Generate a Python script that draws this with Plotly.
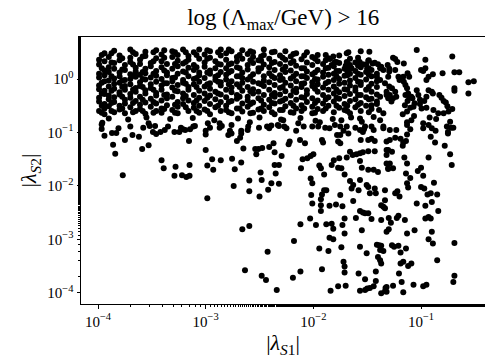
import plotly.graph_objects as go

# ---- data (log10 of |lambda_S1|, |lambda_S2|) ----
# dense band: column x positions and the y values in each column
band_x = [-3.99, -3.94, -3.90, -3.85, -3.80, -3.75, -3.70, -3.65, -3.61, -3.56,
          -3.51, -3.46, -3.41, -3.36, -3.31, -3.26, -3.21, -3.16, -3.11, -3.06,
          -3.01, -2.96, -2.91, -2.86, -2.81, -2.76, -2.71, -2.66, -2.61, -2.56,
          -2.51, -2.46, -2.41, -2.36, -2.31, -2.26, -2.21, -2.16, -2.11, -2.06,
          -2.01, -1.96, -1.91, -1.86, -1.81, -1.76, -1.71, -1.66, -1.61, -1.56,
          -1.51, -1.46, -1.41]
band_y = [
    [0.36, 0.27, 0.1, 0.03, -0.12, -0.19, -0.35, -0.42, -0.6],
    [0.48, 0.33, 0.16, 0.07, -0.04, -0.22, -0.28, -0.47, -0.55, -0.66],
    [0.41, 0.22, 0.13, -0.03, -0.14, -0.31, -0.38, -0.51],
    [0.53, 0.3, 0.19, 0.01, -0.09, -0.18, -0.34, -0.43, -0.62],
    [0.44, 0.35, 0.12, 0.05, -0.07, -0.25, -0.29, -0.5, -0.57],
    [0.26, 0.17, -0.02, -0.13, -0.2, -0.39, -0.46, -0.64],
    [0.55, 0.4, 0.32, 0.09, 0.0, -0.1, -0.28, -0.35, -0.53],
    [0.47, 0.21, 0.14, 0.04, -0.17, -0.24, -0.41, -0.6],
    [0.36, 0.28, 0.08, -0.06, -0.13, -0.33, -0.48, -0.56],
    [0.51, 0.43, 0.19, 0.11, -0.01, -0.21, -0.27, -0.44, -0.65],
    [0.3, 0.24, 0.03, -0.1, -0.17, -0.37, -0.52],
    [0.54, 0.39, 0.15, 0.06, -0.05, -0.26, -0.31, -0.46, -0.6],
    [0.46, 0.33, 0.22, 0.0, -0.12, -0.2, -0.4, -0.55, -0.63],
    [0.28, 0.12, 0.07, -0.08, -0.29, -0.36, -0.49],
    [0.52, 0.41, 0.19, 0.02, -0.04, -0.16, -0.33, -0.58],
    [0.45, 0.34, 0.24, 0.1, -0.11, -0.23, -0.43, -0.52, -0.64],
    [0.55, 0.29, 0.14, -0.02, -0.07, -0.27, -0.36, -0.47],
    [0.43, 0.36, 0.21, 0.05, -0.15, -0.2, -0.4, -0.6],
    [0.5, 0.26, 0.17, 0.0, -0.1, -0.3, -0.45, -0.54],
    [0.55, 0.38, 0.12, 0.07, -0.05, -0.22, -0.35, -0.5, -0.63],
    [0.46, 0.31, 0.23, 0.02, -0.14, -0.27, -0.41, -0.57],
    [0.52, 0.4, 0.16, 0.1, -0.08, -0.18, -0.31, -0.47, -0.66],
    [0.33, 0.2, 0.04, -0.02, -0.24, -0.38, -0.53],
    [0.55, 0.44, 0.27, 0.13, -0.06, -0.12, -0.29, -0.43, -0.6],
    [0.48, 0.36, 0.2, 0.08, -0.01, -0.2, -0.34, -0.5, -0.58],
    [0.52, 0.29, 0.15, -0.04, -0.16, -0.25, -0.41, -0.64],
    [0.41, 0.33, 0.22, 0.05, -0.1, -0.3, -0.37, -0.55],
    [0.54, 0.38, 0.12, 0.02, -0.07, -0.22, -0.46, -0.61],
    [0.47, 0.26, 0.18, -0.01, -0.15, -0.33, -0.4, -0.52],
    [0.5, 0.41, 0.3, 0.09, -0.05, -0.19, -0.27, -0.44, -0.63],
    [0.35, 0.2, 0.14, -0.08, -0.24, -0.36, -0.57],
    [0.55, 0.45, 0.27, 0.05, -0.03, -0.13, -0.3, -0.48, -0.6],
    [0.38, 0.22, 0.11, -0.06, -0.2, -0.39, -0.53],
    [0.51, 0.32, 0.17, 0.02, -0.11, -0.26, -0.33, -0.46, -0.66],
    [0.44, 0.28, 0.07, -0.02, -0.17, -0.29, -0.42, -0.58],
    [0.52, 0.36, 0.23, 0.13, -0.07, -0.23, -0.37, -0.51],
    [0.42, 0.3, 0.16, 0.01, -0.12, -0.31, -0.45, -0.62],
    [0.48, 0.25, 0.1, -0.04, -0.18, -0.25, -0.39, -0.55],
    [0.37, 0.2, 0.05, -0.09, -0.15, -0.34, -0.49, -0.6],
    [0.5, 0.31, 0.14, 0.02, -0.21, -0.28, -0.43],
    [0.41, 0.26, 0.09, -0.06, -0.13, -0.36, -0.52, -0.64],
    [0.45, 0.33, 0.17, -0.01, -0.1, -0.24, -0.4, -0.56],
    [0.28, 0.12, 0.04, -0.16, -0.3, -0.46, -0.6],
    [0.39, 0.21, 0.08, -0.05, -0.2, -0.34, -0.5],
    [0.24, 0.1, -0.02, -0.14, -0.27, -0.42, -0.62],
    [0.44, 0.3, 0.15, 0.0, -0.09, -0.25, -0.37, -0.54],
    [0.19, 0.06, -0.07, -0.19, -0.32, -0.47, -0.58],
    [0.38, 0.26, 0.1, -0.03, -0.12, -0.28, -0.41, -0.64],
    [0.31, 0.15, 0.02, -0.16, -0.22, -0.38, -0.53],
    [0.22, 0.08, -0.06, -0.11, -0.3, -0.45, -0.6],
    [0.27, 0.13, -0.01, -0.2, -0.34, -0.5],
    [0.17, 0.05, -0.09, -0.24, -0.37, -0.56],
    [0.1, -0.04, -0.15, -0.29, -0.47],
]

# extra points filling the gaps of the dense band
fill_x = [-3.965, -3.875, -3.775, -3.675, -3.585, -3.485, -3.385, -3.285, -3.185,
          -3.085, -2.985, -2.885, -2.785, -2.685, -2.585, -2.485, -2.385, -2.285,
          -2.185, -2.085, -1.985, -1.885, -1.785, -1.685, -1.585, -1.485]
fill_y = [
    [0.2, -0.07, -0.27, -0.5, 0.45, -0.63],
    [0.31, 0.05, -0.22, -0.45, -0.6, 0.48],
    [0.18, -0.03, -0.33, -0.55, 0.39, -0.15],
    [0.27, 0.06, -0.2, -0.45, -0.62, 0.5],
    [0.13, -0.15, -0.39, -0.6, 0.42, 0.0],
    [0.33, 0.1, -0.2, -0.43, -0.63, 0.5],
    [0.4, 0.16, -0.08, -0.3, -0.56, 0.54],
    [0.28, 0.03, -0.22, -0.48, 0.5, -0.63],
    [0.32, 0.12, -0.09, -0.32, -0.53, 0.5],
    [0.22, -0.15, -0.4, -0.6, 0.45, 0.02],
    [0.38, 0.12, -0.1, -0.35, -0.6, 0.54],
    [0.28, -0.05, -0.27, -0.5, 0.5, 0.07],
    [0.27, 0.12, -0.1, -0.43, -0.62, 0.55],
    [0.45, 0.2, -0.15, -0.33, -0.55, 0.05],
    [0.35, 0.04, -0.23, -0.47, -0.64, 0.52],
    [0.2, -0.1, -0.4, -0.55, 0.42, 0.34],
    [0.3, 0.05, -0.3, -0.45, -0.62, 0.5],
    [0.4, 0.18, -0.15, -0.4, -0.58, 0.0],
    [0.33, 0.05, -0.22, -0.5, 0.47, -0.63],
    [0.44, 0.2, -0.08, -0.35, -0.55, 0.05],
    [0.38, 0.12, -0.18, -0.45, -0.63, 0.0],
    [0.35, 0.2, -0.08, -0.38, -0.55, 0.45],
    [0.32, 0.05, -0.2, -0.5, 0.15, -0.35],
    [0.3, 0.07, -0.2, -0.5, -0.6, 0.15],
    [0.4, 0.1, -0.05, -0.3, -0.48, 0.25],
    [0.35, 0.08, -0.15, -0.38, -0.62, 0.2],
]

# sparse points just below the dense band
band_edge = [
    (-3.966, -0.936), (-3.94, -1.06), (-3.87, -1.01), (-3.83, -1.01), (-3.81, -0.92),
    (-3.75, -1.14), (-3.68, -1.05), (-3.62, -1.08), (-3.58, -0.91), (-3.52, -0.88),
    (-3.49, -0.99), (-3.46, -1.03), (-3.47, -0.88), (-3.38, -0.955), (-3.29, -0.99),
    (-3.245, -0.99), (-3.23, -0.91), (-3.21, -0.94), (-3.155, -1.16), (-3.96, -0.82),
    (-3.115, -0.89), (-3.10, -0.88), (-3.0, -0.97), (-3.0, -1.04), (-2.96, -0.91),
    (-2.87, -0.91), (-2.85, -0.88), (-2.79, -1.05), (-2.76, -1.02), (-2.775, -0.97),
    (-2.71, -1.16), (-2.68, -1.10), (-2.67, -1.02), (-2.67, -0.97), (-2.61, -0.955),
    (-2.605, -0.89), (-2.505, -0.91), (-2.41, -0.92), (-2.39, -0.87), (-2.32, -0.88),
    (-2.27, -0.89), (-3.19, -0.955), (-3.966, -0.85), (-3.70, -0.89), (-3.53, -0.83),
    (-3.42, -0.99), (-3.35, -0.89), (-3.145, -0.94), (-2.98, -0.83), (-2.87, -0.83),
    (-2.76, -0.86), (-2.59, -0.81), (-2.43, -0.89), (-2.33, -0.86), (-3.9, -0.74),
    (-3.72, -0.76), (-3.55, -0.72), (-3.33, -0.75), (-3.12, -0.73), (-2.92, -0.77),
    (-2.7, -0.74), (-2.5, -0.72), (-2.3, -0.76), (-2.12, -0.73), (-1.98, -0.78),
    (-1.82, -0.75), (-1.65, -0.72), (-2.28, -0.77), (-2.25, -0.92), (-2.14, -0.83),
    (-2.01, -0.89), (-1.94, -0.81), (-1.80, -0.86), (-1.74, -0.77), (-1.69, -0.89),
    (-1.55, -0.80), (-1.38, -0.77), (-2.16, -0.97), (-1.955, -0.89), (-1.89, -0.91),
    (-1.85, -0.92), (-1.72, -0.97), (-1.675, -1.02), (-1.567, -0.955), (-1.54, -0.99),
    (-1.53, -0.94), (-1.35, -0.92), (-1.46, -0.89), (-2.09, -0.89), (-1.75, -0.89),
    (-1.61, -0.91),
]

# sparse points in the lower part of the plot
lower_scatter = [
    (-3.86, -1.23), (-3.84, -1.40), (-3.59, -1.31), (-3.53, -1.24), (-3.77, -1.80),
    (-3.41, -1.52), (-3.39, -1.67), (-3.28, -1.64), (-3.29, -1.81), (-3.15, -1.61),
    (-3.18, -1.835), (-3.15, -1.81), (-3.22, -1.80),
    (-3.0, -1.33), (-2.985, -1.62), (-2.94, -1.50), (-2.93, -1.70), (-2.86, -1.52),
    (-2.755, -1.49), (-2.73, -1.69), (-2.67, -1.56), (-2.74, -2.00), (-2.985, -2.23),
    (-2.65, -1.30), (-2.595, -1.90), (-2.595, -2.10), (-2.54, -1.31), (-2.51, -1.31),
    (-2.53, -1.41), (-2.475, -1.29), (-2.41, -1.27), (-2.37, -1.20), (-2.36, -1.37),
    (-2.295, -1.44), (-2.23, -1.22), (-2.22, -1.17), (-2.49, -1.75), (-2.48, -1.89),
    (-2.50, -2.20), (-2.42, -2.07), (-2.39, -1.95), (-2.36, -1.61), (-2.32, -1.61),
    (-2.35, -1.77), (-2.32, -1.96), (-2.66, -2.81), (-2.595, -2.75), (-2.425, -3.23),
    (-2.635, -3.58), (-2.48, -3.68), (-2.44, -3.76), (-2.34, -3.95), (-2.18, -3.03),
    (-2.19, -3.72),
    (-2.124, -1.14), (-2.078, -1.20), (-2.10, -1.50), (-2.056, -1.485), (-2.025, -1.44),
    (-2.00, -1.41), (-2.115, -1.67), (-1.945, -1.62), (-1.93, -1.67), (-1.92, -1.14),
    (-1.91, -1.19), (-1.78, -1.05), (-1.75, -1.05), (-1.77, -1.17), (-1.75, -1.20),
    (-1.90, -1.785), (-1.83, -1.61), (-1.81, -1.52), (-1.76, -1.485), (-1.77, -1.66),
    (-1.74, -1.67), (-1.71, -1.785), (-1.69, -1.47), (-1.66, -1.36), (-1.635, -1.42),
    (-1.60, -1.41), (-1.567, -1.39), (-1.54, -1.37), (-1.49, -1.35), (-1.43, -1.35),
    (-1.66, -1.91), (-1.63, -1.985), (-1.645, -2.05), (-1.567, -1.89), (-1.58, -2.08),
    (-1.505, -1.985), (-1.49, -2.02), (-1.43, -2.05), (-1.42, -2.14), (-1.55, -1.66),
    (-1.567, -1.535), (-1.49, -1.70), (-1.44, -1.70), (-1.40, -1.74), (-1.475, -2.14),
    (-2.025, -1.86), (-2.01, -1.95), (-2.02, -2.17), (-2.01, -2.33), (-1.93, -2.25),
    (-1.92, -2.16), (-1.90, -2.08), (-1.88, -2.08), (-1.93, -2.36), (-1.93, -2.47),
    (-1.85, -2.37), (-1.79, -2.35), (-1.75, -2.17), (-1.73, -2.38), (-1.63, -2.285),
    (-1.567, -2.47), (-1.54, -2.50), (-1.52, -2.51), (-1.49, -2.51), (-1.46, -2.62),
    (-1.605, -2.60), (-1.71, -2.61), (-2.03, -2.61), (-2.12, -2.72), (-1.976, -2.73),
    (-1.88, -2.72), (-1.83, -2.71), (-1.815, -2.80), (-1.73, -2.73), (-1.71, -2.89),
    (-1.55, -2.83), (-1.85, -2.97), (-1.815, -3.00), (-1.945, -3.17), (-1.86, -3.22),
    (-1.74, -3.15), (-1.567, -3.14), (-1.505, -3.26), (-1.72, -3.42), (-1.71, -3.51),
    (-1.71, -3.62), (-2.12, -3.60), (-1.92, -3.56), (-1.58, -3.64), (-1.52, -3.745),
    (-1.77, -3.88), (-1.70, -3.87), (-1.84, -3.96), (-1.567, -3.96), (-1.52, -3.95),
    (-1.50, -3.92), (-1.475, -3.91), (-1.44, -3.88), (-1.41, -3.10), (-1.39, -3.11),
    (-1.37, -3.12), (-1.38, -3.20), (-1.35, -3.22), (-1.40, -3.33), (-1.38, -3.39),
    (-1.37, -3.45), (-1.42, -3.60), (-1.42, -3.78), (-1.33, -3.91), (-1.37, -4.01),
    (-1.335, -3.97), (-1.32, -2.86), (-1.37, -2.64), (-1.37, -2.36), (-1.35, -2.39),
    (-1.32, -1.58), (-1.305, -1.67), (-1.43, -1.16), (-1.49, -1.14), (-1.46, -1.12),
    (-1.56, -1.14), (-1.32, -1.33),
    (-0.98, -0.92), (-0.865, -0.97), (-0.91, -1.08), (-0.87, -1.19), (-0.75, -1.02),
    (-0.70, -0.91), (-0.78, -1.25), (-0.73, -1.41), (-0.715, -1.61), (-0.93, -1.47),
    (-1.13, -1.04), (-1.19, -1.12), (-1.165, -1.19), (-1.14, -1.16), (-1.17, -1.25),
    (-1.24, -1.10), (-1.29, -1.14), (-1.32, -1.17), (-1.305, -1.33), (-1.27, -1.36),
    (-1.32, -1.42), (-1.155, -1.47), (-1.13, -1.58), (-1.29, -1.58), (-1.305, -1.685),
    (-1.26, -1.67), (-1.14, -1.77), (-1.10, -1.85), (-1.13, -1.95), (-1.12, -2.03),
    (-1.03, -1.72), (-1.00, -1.66), (-0.98, -1.81), (-1.00, -2.02), (-0.97, -2.05),
    (-0.88, -1.94), (-0.94, -2.16), (-0.91, -2.14), (-0.85, -2.16), (-0.90, -2.30),
    (-0.96, -2.37), (-0.84, -2.47), (-1.04, -2.33), (-1.24, -2.14), (-1.22, -2.10),
    (-1.20, -2.20), (-1.335, -2.08), (-1.335, -2.27), (-1.335, -2.42), (-1.30, -2.60),
    (-1.28, -2.69), (-1.225, -2.60), (-1.21, -2.56), (-1.15, -2.64), (-1.30, -2.81),
    (-1.13, -2.89), (-1.06, -2.83), (-0.96, -2.61), (-0.93, -2.58), (-0.91, -2.61),
    (-0.90, -2.86), (-0.93, -3.00), (-0.89, -3.08), (-0.69, -3.07), (-1.27, -3.11),
    (-1.25, -3.14), (-1.21, -3.12), (-1.19, -3.245), (-1.14, -3.17), (-1.19, -3.45),
    (-1.165, -3.42), (-1.12, -3.50), (-1.09, -3.45), (-0.85, -3.39), (-1.205, -3.64),
    (-0.69, -3.68), (-0.70, -3.80), (-1.18, -3.80), (-1.26, -3.87), (-1.32, -3.89),
    (-1.32, -3.98), (-1.165, -3.99), (-1.07, -3.85), (-0.98, -3.88), (-0.95, -3.85),
]

# points on the right of the dense band
right_scatter = [
    (-1.04, 0.545), (-0.96, 0.36), (-0.71, 0.42), (-0.96, 0.20), (-0.98, 0.15),
    (-0.89, 0.09), (-0.93, 0.04), (-0.95, -0.02), (-0.80, 0.11), (-0.69, 0.125),
    (-0.645, 0.125), (-0.56, -0.06), (-0.51, -0.04), (-0.56, -0.27), (-0.69, -0.175),
    (-0.69, -0.22), (-0.83, -0.30), (-0.81, -0.35), (-0.79, -0.41), (-0.93, -0.21),
    (-0.90, -0.24), (-0.89, -0.27), (-0.71, -0.56), (-0.745, -0.61), (-0.72, -0.91),
    (-0.75, -0.99), (-0.84, -0.64), (-0.86, -0.75), (-0.95, -0.33), (-0.97, -0.41),
    (-1.01, -0.47), (-0.995, -0.55), (-0.95, -0.54), (-1.07, -0.52), (-1.10, -0.54),
    (-1.13, -0.61), (-1.065, -0.69), (-1.09, -0.77), (-1.13, -0.81), (-1.17, -0.66),
    (-0.98, -0.83), (-0.93, -0.86), (-1.125, -0.41), (-1.15, -0.49), (-1.11, -0.35),
    (-1.24, 0.375), (-1.22, 0.32), (-1.26, 0.40), (-1.16, 0.29), (-1.24, 0.17),
    (-1.21, 0.04), (-1.20, -0.02), (-1.165, 0.04), (-1.16, -0.05), (-1.31, 0.26),
    (-1.295, 0.19), (-1.37, 0.23), (-1.35, 0.17), (-1.41, 0.04), (-1.38, -0.02),
    (-1.27, -0.175), (-1.24, -0.24), (-1.23, -0.33), (-1.32, -0.30), (-1.305, -0.36),
    (-1.12, -0.27), (-1.09, -0.33), (-1.145, -0.11), (-1.13, -0.175), (-1.48, 0.51),
    (-1.56, 0.52), (-1.49, 0.34), (-1.45, 0.29), (-1.50, 0.20), (-1.40, 0.275),
    (-1.38, 0.20), (-1.57, 0.32), (-1.54, 0.275), (-1.675, 0.50), (-1.69, 0.32),
    (-1.70, 0.25), (-1.675, 0.20), (-1.645, 0.20), (-1.815, 0.42), (-1.80, 0.32),
    (-1.845, 0.375), (-1.83, 0.26), (-1.69, 0.48), (-1.43, 0.305), (-1.295, 0.14),
    (-1.305, 0.04), (-1.125, 0.11), (-1.11, 0.04), (-1.00, 0.17), (-0.77, -0.44),
    (-0.755, -0.51), (-1.04, -0.21), (-1.025, -0.30), (-1.01, -0.39), (-1.08, -0.36),
    (-1.06, -0.455), (-0.885, -0.58), (-0.92, -0.72), (-0.79, -0.64), (-0.73, -0.80),
    (-0.76, -0.89), (-0.90, -0.92), (-1.13, -0.86), (-1.10, -0.94), (-1.145, -0.30),
    (-1.335, -0.08), (-1.295, -0.14), (-1.32, -0.24), (-1.29, -0.30), (-1.26, -0.36),
    (-1.275, -0.42), (-1.38, -0.33), (-1.41, -0.42), (-1.46, -0.49), (-1.39, -0.58),
    (-1.35, -0.64), (-1.44, -0.71), (-1.567, -0.74), (-1.52, -0.89), (-1.35, -0.89),
    (-1.29, -0.955), (-1.23, -0.955), (-1.44, -0.955),
]

# tick labels
x_tickvals = [1e-4, 1e-3, 1e-2, 1e-1]
x_ticktext = ["10<sup>−4</sup>", "10<sup>−3</sup>", "10<sup>−2</sup>", "10<sup>−1</sup>"]
y_tickvals = [1e-4, 1e-3, 1e-2, 1e-1, 1e0]
y_ticktext = ["10<sup>−4</sup>", "10<sup>−3</sup>", "10<sup>−2</sup>", "10<sup>−1</sup>", "10<sup>0</sup>"]

# ---- assemble ----
log_s1, log_s2 = [], []
for xs_cols, ys_cols in ((band_x, band_y), (fill_x, fill_y)):
    for cx, ys in zip(xs_cols, ys_cols):
        for yv in ys:
            log_s1.append(cx)
            log_s2.append(yv)
for group in (band_edge, lower_scatter, right_scatter):
    for xv, yv in group:
        log_s1.append(xv)
        log_s2.append(yv)

lambda_s1 = [10 ** v for v in log_s1]
lambda_s2 = [10 ** v for v in log_s2]

serif = "Liberation Serif"

fig = go.Figure(go.Scatter(
    x=lambda_s1, y=lambda_s2, mode="markers",
    marker=dict(color="black", size=6, line=dict(width=0)),
    showlegend=False, hoverinfo="skip",
))

axis_common = dict(
    type="log", showgrid=False, zeroline=False,
    showline=True, linecolor="black", linewidth=1,
    ticks="outside", ticklen=3.5, tickwidth=0.8, tickcolor="black",
    tickfont=dict(family=serif, size=15, color="black"),
    minor=dict(ticks="outside", ticklen=2, tickwidth=0.6, tickcolor="black", showgrid=False),
)

fig.update_layout(
    width=485, height=358,
    margin=dict(l=81, r=0, t=37, b=54),
    paper_bgcolor="white", plot_bgcolor="white",
    title=dict(text="log (Λ<sub>max</sub>/GeV) > 16", x=0.584, xanchor="center",
               y=0.952, yanchor="middle", yref="container",
               font=dict(family=serif, size=23, color="black")),
    xaxis=dict(axis_common, range=[-4.158, -0.406], mirror=True,
               tickmode="array", tickvals=x_tickvals, ticktext=x_ticktext,
               title=dict(text="|<i>λ</i><sub><i>S</i>1</sub>|", standoff=9,
                          font=dict(family=serif, size=22, color="black"))),
    yaxis=dict(axis_common, range=[-4.21, 0.786], mirror=False,
               tickmode="array", tickvals=y_tickvals, ticktext=y_ticktext,
               title=dict(text="|<i>λ</i><sub><i>S</i>2</sub>|", standoff=4,
                          font=dict(family=serif, size=22, color="black"))),
)

fig.write_html("out.html")
